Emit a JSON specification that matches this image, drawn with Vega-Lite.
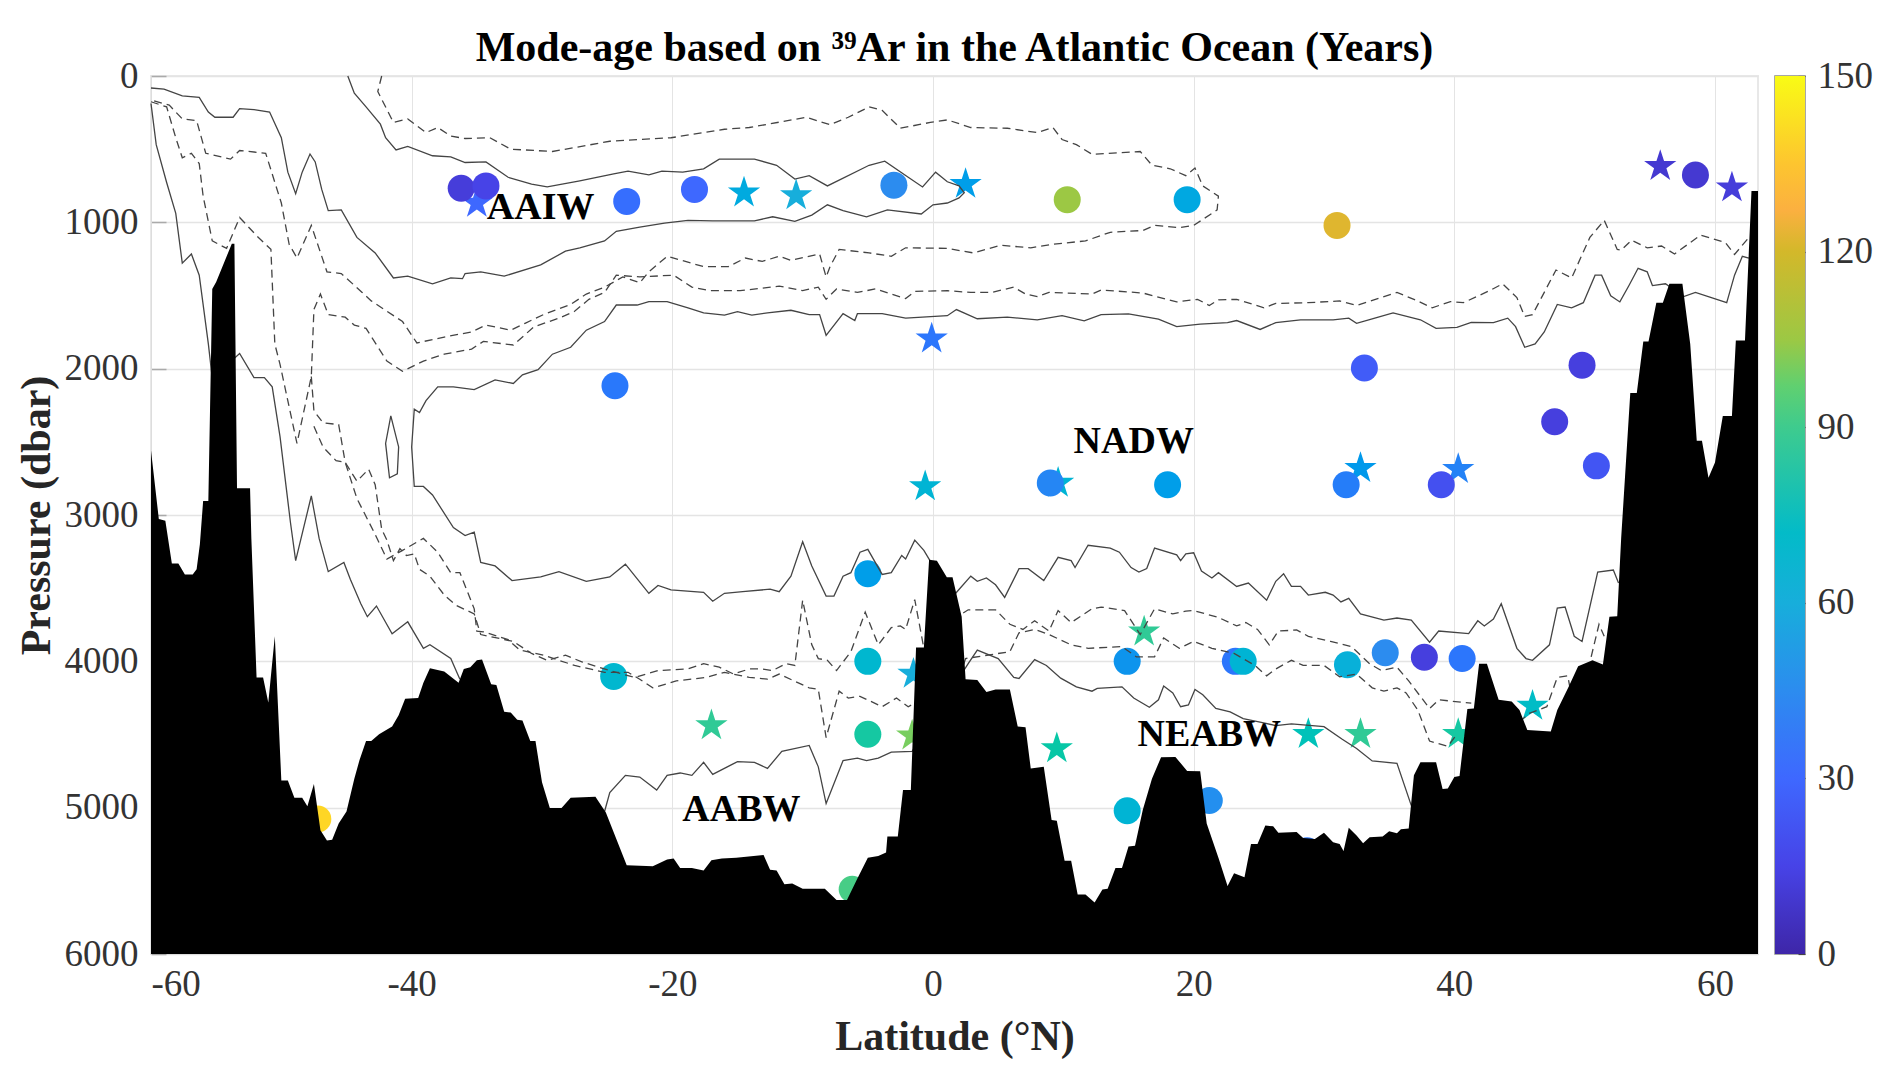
{
"$schema":"https://vega.github.io/schema/vega-lite/v6.json",
"background":"white",
"padding":{"left":14,"top":26,"right":5,"bottom":5},
"spacing":15,
"datasets":{
"bathy":[{"lat":-60,"p":2559},{"lat":-59.4,"p":3028},{"lat":-58.9,"p":3040},{"lat":-58.4,"p":3331},{"lat":-57.9,"p":3331},{"lat":-57.4,"p":3406},{"lat":-56.8,"p":3406},{"lat":-56.5,"p":3370},{"lat":-56.25,"p":3200},{"lat":-56,"p":2904},{"lat":-55.6,"p":2904},{"lat":-55.3,"p":1455},{"lat":-55,"p":1408},{"lat":-53.8,"p":1146},{"lat":-53.6,"p":1146},{"lat":-53.4,"p":2817},{"lat":-52.4,"p":2817},{"lat":-52.3,"p":3160},{"lat":-51.9,"p":4110},{"lat":-51.4,"p":4110},{"lat":-51,"p":4282},{"lat":-50.5,"p":3829},{"lat":-50,"p":4815},{"lat":-49.5,"p":4815},{"lat":-49,"p":4932},{"lat":-48.4,"p":4932},{"lat":-48,"p":4990},{"lat":-47.5,"p":4838},{"lat":-47,"p":5155},{"lat":-46.5,"p":5225},{"lat":-46.1,"p":5220},{"lat":-45.6,"p":5108},{"lat":-45,"p":5026},{"lat":-44.4,"p":4803},{"lat":-44,"p":4674},{"lat":-43.5,"p":4545},{"lat":-43.1,"p":4545},{"lat":-42.5,"p":4498},{"lat":-41.5,"p":4446},{"lat":-41,"p":4369},{"lat":-40.5,"p":4256},{"lat":-39.5,"p":4251},{"lat":-39.1,"p":4146},{"lat":-38.6,"p":4047},{"lat":-37.5,"p":4070},{"lat":-36.4,"p":4146},{"lat":-36,"p":4052},{"lat":-35.5,"p":4040},{"lat":-35,"p":3993},{"lat":-34.6,"p":3988},{"lat":-33.9,"p":4157},{"lat":-33.5,"p":4162},{"lat":-32.9,"p":4345},{"lat":-32.4,"p":4350},{"lat":-31.9,"p":4399},{"lat":-31.5,"p":4404},{"lat":-30.9,"p":4545},{"lat":-30.5,"p":4545},{"lat":-30,"p":4826},{"lat":-29.4,"p":5002},{"lat":-28.5,"p":5002},{"lat":-27.8,"p":4932},{"lat":-25.9,"p":4925},{"lat":-25.1,"p":5033},{"lat":-23.5,"p":5394},{"lat":-21.5,"p":5401},{"lat":-20.4,"p":5354},{"lat":-19.9,"p":5347},{"lat":-19.4,"p":5413},{"lat":-18.5,"p":5413},{"lat":-17.6,"p":5430},{"lat":-17,"p":5359},{"lat":-16.2,"p":5347},{"lat":-15.1,"p":5343},{"lat":-13,"p":5324},{"lat":-12.5,"p":5425},{"lat":-12,"p":5430},{"lat":-11.4,"p":5523},{"lat":-10.8,"p":5519},{"lat":-10,"p":5554},{"lat":-8.3,"p":5554},{"lat":-7.4,"p":5631},{"lat":-6.6,"p":5631},{"lat":-5.8,"p":5484},{"lat":-5,"p":5343},{"lat":-4.2,"p":5331},{"lat":-3.6,"p":5307},{"lat":-3.5,"p":5197},{"lat":-2.7,"p":5197},{"lat":-2.3,"p":4880},{"lat":-1.7,"p":4880},{"lat":-1.3,"p":3906},{"lat":-0.7,"p":3906},{"lat":-0.3,"p":3305},{"lat":0.3,"p":3312},{"lat":1.06,"p":3425},{"lat":1.5,"p":3425},{"lat":2.2,"p":3695},{"lat":2.5,"p":4122},{"lat":3.4,"p":4127},{"lat":4.1,"p":4209},{"lat":4.8,"p":4192},{"lat":5.9,"p":4192},{"lat":6.5,"p":4446},{"lat":7.1,"p":4451},{"lat":7.5,"p":4732},{"lat":8.5,"p":4721},{"lat":9.1,"p":5085},{"lat":9.5,"p":5089},{"lat":10.1,"p":5362},{"lat":10.6,"p":5362},{"lat":11.1,"p":5594},{"lat":11.7,"p":5594},{"lat":12.4,"p":5648},{"lat":13,"p":5559},{"lat":13.4,"p":5554},{"lat":14,"p":5413},{"lat":14.5,"p":5413},{"lat":15,"p":5265},{"lat":15.5,"p":5261},{"lat":16.1,"p":5014},{"lat":16.8,"p":4803},{"lat":17.5,"p":4655},{"lat":18.6,"p":4653},{"lat":19.5,"p":4749},{"lat":20.5,"p":4751},{"lat":21,"p":5108},{"lat":21.9,"p":5343},{"lat":22.6,"p":5535},{"lat":23.1,"p":5448},{"lat":23.9,"p":5476},{"lat":24.4,"p":5249},{"lat":24.9,"p":5249},{"lat":25.5,"p":5122},{"lat":26.1,"p":5127},{"lat":26.5,"p":5171},{"lat":27.9,"p":5167},{"lat":28.4,"p":5207},{"lat":29.3,"p":5214},{"lat":30,"p":5171},{"lat":30.7,"p":5237},{"lat":31.2,"p":5249},{"lat":31.5,"p":5296},{"lat":31.9,"p":5138},{"lat":32.5,"p":5190},{"lat":33,"p":5244},{"lat":33.5,"p":5202},{"lat":34.5,"p":5197},{"lat":35,"p":5162},{"lat":35.6,"p":5174},{"lat":35.9,"p":5148},{"lat":36.5,"p":5143},{"lat":36.9,"p":4779},{"lat":37.4,"p":4690},{"lat":38.6,"p":4690},{"lat":39.1,"p":4873},{"lat":39.5,"p":4869},{"lat":40,"p":4791},{"lat":40.4,"p":4784},{"lat":41,"p":4326},{"lat":41.5,"p":4322},{"lat":41.9,"p":4016},{"lat":42.5,"p":4016},{"lat":43.4,"p":4263},{"lat":44.4,"p":4275},{"lat":45,"p":4333},{"lat":45.6,"p":4469},{"lat":47.4,"p":4479},{"lat":47.9,"p":4333},{"lat":48.8,"p":4169},{"lat":49.5,"p":4033},{"lat":50.6,"p":3993},{"lat":51.4,"p":4021},{"lat":51.9,"p":3695},{"lat":52.5,"p":3692},{"lat":52.8,"p":3160},{"lat":53.5,"p":2167},{"lat":54,"p":2167},{"lat":54.5,"p":1815},{"lat":54.9,"p":1815},{"lat":55.5,"p":1549},{"lat":56,"p":1549},{"lat":56.5,"p":1420},{"lat":57.5,"p":1420},{"lat":58.1,"p":1831},{"lat":58.6,"p":2493},{"lat":59,"p":2493},{"lat":59.5,"p":2746},{"lat":60,"p":2641},{"lat":60.6,"p":2324},{"lat":61.3,"p":2324},{"lat":61.6,"p":1808},{"lat":62.3,"p":1808},{"lat":62.8,"p":786},{"lat":63.3,"p":786}],
"solid":[
{"c":"s1","lat":-60,"p":82},{"c":"s1","lat":-59,"p":89},{"c":"s1","lat":-57.6,"p":136},{"c":"s1","lat":-56.3,"p":146},{"c":"s1","lat":-55.6,"p":246},{"c":"s1","lat":-55.1,"p":282},{"c":"s1","lat":-53.7,"p":282},{"c":"s1","lat":-53.2,"p":223},{"c":"s1","lat":-52.1,"p":230},{"c":"s1","lat":-50.9,"p":246},{"c":"s1","lat":-50,"p":422},{"c":"s1","lat":-49.5,"p":657},{"c":"s1","lat":-48.9,"p":805},{"c":"s1","lat":-48.4,"p":657},{"c":"s1","lat":-47.8,"p":533},{"c":"s1","lat":-47.4,"p":587},{"c":"s1","lat":-46.9,"p":775},{"c":"s1","lat":-46.4,"p":920},{"c":"s1","lat":-45.4,"p":915},{"c":"s1","lat":-44.2,"p":1103},{"c":"s1","lat":-42.8,"p":1209},{"c":"s1","lat":-41.4,"p":1380},{"c":"s1","lat":-40.3,"p":1368},{"c":"s1","lat":-38.4,"p":1420},{"c":"s1","lat":-37,"p":1380},{"c":"s1","lat":-36.1,"p":1385},{"c":"s1","lat":-35.9,"p":1350},{"c":"s1","lat":-34.7,"p":1338},{"c":"s1","lat":-32.9,"p":1368},{"c":"s1","lat":-30.1,"p":1291},{"c":"s1","lat":-28.2,"p":1197},{"c":"s1","lat":-27.1,"p":1174},{"c":"s1","lat":-25.2,"p":1127},{"c":"s1","lat":-24.3,"p":1061},{"c":"s1","lat":-22.5,"p":1033},{"c":"s1","lat":-20.6,"p":1005},{"c":"s1","lat":-18.8,"p":986},{"c":"s1","lat":-16.9,"p":990},{"c":"s1","lat":-13.7,"p":990},{"c":"s1","lat":-12.3,"p":962},{"c":"s1","lat":-10.6,"p":993},{"c":"s1","lat":-9.3,"p":951},{"c":"s1","lat":-8.1,"p":880},{"c":"s1","lat":-6.9,"p":920},{"c":"s1","lat":-5.1,"p":962},{"c":"s1","lat":-3.5,"p":915},{"c":"s1","lat":-0.9,"p":943},{"c":"s1","lat":0,"p":880},{"c":"s1","lat":1.1,"p":868},{"c":"s1","lat":2,"p":833},{"c":"s1","lat":2.4,"p":798},{"c":"s1","lat":2,"p":751},{"c":"s1","lat":1.1,"p":723},{"c":"s1","lat":0.2,"p":657},{"c":"s1","lat":-0.8,"p":758},{"c":"s1","lat":-1.9,"p":692},{"c":"s1","lat":-3.7,"p":582},{"c":"s1","lat":-4.9,"p":610},{"c":"s1","lat":-8.1,"p":751},{"c":"s1","lat":-9.5,"p":681},{"c":"s1","lat":-10.6,"p":704},{"c":"s1","lat":-12,"p":610},{"c":"s1","lat":-13.7,"p":568},{"c":"s1","lat":-16.4,"p":568},{"c":"s1","lat":-17.6,"p":634},{"c":"s1","lat":-19.2,"p":657},{"c":"s1","lat":-20.8,"p":650},{"c":"s1","lat":-21.8,"p":676},{"c":"s1","lat":-23.4,"p":650},{"c":"s1","lat":-24.5,"p":669},{"c":"s1","lat":-27.1,"p":716},{"c":"s1","lat":-29.6,"p":758},{"c":"s1","lat":-30.8,"p":739},{"c":"s1","lat":-32.6,"p":692},{"c":"s1","lat":-34.3,"p":587},{"c":"s1","lat":-35.9,"p":591},{"c":"s1","lat":-37,"p":552},{"c":"s1","lat":-38.4,"p":545},{"c":"s1","lat":-40.3,"p":481},{"c":"s1","lat":-41.2,"p":505},{"c":"s1","lat":-42,"p":422},{"c":"s1","lat":-42.4,"p":329},{"c":"s1","lat":-43.5,"p":211},{"c":"s1","lat":-44.4,"p":117},{"c":"s1","lat":-44.9,"p":0},
{"c":"s2","lat":-60,"p":188},{"c":"s2","lat":-59.6,"p":469},{"c":"s2","lat":-58.8,"p":728},{"c":"s2","lat":-58.1,"p":939},{"c":"s2","lat":-57.6,"p":1279},{"c":"s2","lat":-56.9,"p":1216},{"c":"s2","lat":-56.3,"p":1361},{"c":"s2","lat":-55.6,"p":1831},{"c":"s2","lat":-55.3,"p":2065},{"c":"s2","lat":-53.2,"p":1896},{"c":"s2","lat":-52.1,"p":2061},{"c":"s2","lat":-51.3,"p":2061},{"c":"s2","lat":-50.7,"p":2124},{"c":"s2","lat":-50.1,"p":2464},{"c":"s2","lat":-49.3,"p":3051},{"c":"s2","lat":-48.9,"p":3312},{"c":"s2","lat":-47.7,"p":2870},{"c":"s2","lat":-47.1,"p":3160},{"c":"s2","lat":-46.4,"p":3387},{"c":"s2","lat":-45.2,"p":3324},{"c":"s2","lat":-44.7,"p":3441},{"c":"s2","lat":-43.9,"p":3606},{"c":"s2","lat":-43.4,"p":3695},{"c":"s2","lat":-42.7,"p":3622},{"c":"s2","lat":-41.5,"p":3812},{"c":"s2","lat":-40.3,"p":3730},{"c":"s2","lat":-39.1,"p":3911},{"c":"s2","lat":-38.6,"p":3887},{"c":"s2","lat":-37,"p":3981},{"c":"s2","lat":-36.3,"p":4122},
{"c":"s3","lat":62.6,"p":1244},{"c":"s3","lat":62.1,"p":1232},{"c":"s3","lat":61.5,"p":1361},{"c":"s3","lat":60.9,"p":1549},{"c":"s3","lat":58.5,"p":1479},{"c":"s3","lat":57.6,"p":1507},{"c":"s3","lat":56.2,"p":1420},{"c":"s3","lat":55.2,"p":1432},{"c":"s3","lat":54.8,"p":1338},{"c":"s3","lat":54.1,"p":1314},{"c":"s3","lat":53.4,"p":1432},{"c":"s3","lat":52.7,"p":1544},{"c":"s3","lat":52,"p":1502},{"c":"s3","lat":51.3,"p":1361},{"c":"s3","lat":50.8,"p":1361},{"c":"s3","lat":49.9,"p":1549},{"c":"s3","lat":49,"p":1584},{"c":"s3","lat":47.9,"p":1561},{"c":"s3","lat":46.9,"p":1749},{"c":"s3","lat":46.2,"p":1831},{"c":"s3","lat":45.4,"p":1854},{"c":"s3","lat":44.7,"p":1713},{"c":"s3","lat":44.1,"p":1655},{"c":"s3","lat":43,"p":1685},{"c":"s3","lat":41.3,"p":1683},{"c":"s3","lat":40.2,"p":1718},{"c":"s3","lat":38.6,"p":1725},{"c":"s3","lat":37.4,"p":1666},{"c":"s3","lat":35.3,"p":1619},{"c":"s3","lat":33.9,"p":1655},{"c":"s3","lat":32.5,"p":1690},{"c":"s3","lat":31.9,"p":1655},{"c":"s3","lat":30.7,"p":1666},{"c":"s3","lat":28.2,"p":1666},{"c":"s3","lat":26.3,"p":1685},{"c":"s3","lat":25.1,"p":1732},{"c":"s3","lat":23.3,"p":1671},{"c":"s3","lat":22.6,"p":1685},{"c":"s3","lat":20.5,"p":1695},{"c":"s3","lat":18.7,"p":1713},{"c":"s3","lat":17.3,"p":1662},{"c":"s3","lat":15,"p":1626},{"c":"s3","lat":12.9,"p":1631},{"c":"s3","lat":11.6,"p":1673},{"c":"s3","lat":9.9,"p":1638},{"c":"s3","lat":8,"p":1666},{"c":"s3","lat":5.7,"p":1648},{"c":"s3","lat":3.4,"p":1659},{"c":"s3","lat":1.8,"p":1596},{"c":"s3","lat":1.1,"p":1638},{"c":"s3","lat":-2.1,"p":1655},{"c":"s3","lat":-3.9,"p":1624},{"c":"s3","lat":-5.8,"p":1624},{"c":"s3","lat":-6,"p":1671},{"c":"s3","lat":-6.9,"p":1624},{"c":"s3","lat":-8.2,"p":1772},{"c":"s3","lat":-8.7,"p":1631},{"c":"s3","lat":-9.5,"p":1631},{"c":"s3","lat":-10.9,"p":1601},{"c":"s3","lat":-12.7,"p":1619},{"c":"s3","lat":-13.9,"p":1634},{"c":"s3","lat":-15,"p":1610},{"c":"s3","lat":-16,"p":1634},{"c":"s3","lat":-17.6,"p":1619},{"c":"s3","lat":-18.8,"p":1584},{"c":"s3","lat":-20.4,"p":1542},{"c":"s3","lat":-21.8,"p":1542},{"c":"s3","lat":-22.7,"p":1565},{"c":"s3","lat":-24.3,"p":1565},{"c":"s3","lat":-25.2,"p":1678},{"c":"s3","lat":-26.6,"p":1737},{"c":"s3","lat":-27.8,"p":1854},{"c":"s3","lat":-29.2,"p":1901},{"c":"s3","lat":-30.3,"p":2007},{"c":"s3","lat":-31.5,"p":2042},{"c":"s3","lat":-32.2,"p":2101},{"c":"s3","lat":-33.6,"p":2077},{"c":"s3","lat":-35.2,"p":2143},{"c":"s3","lat":-36.8,"p":2124},{"c":"s3","lat":-38,"p":2124},{"c":"s3","lat":-38.9,"p":2218},{"c":"s3","lat":-39.4,"p":2300},{"c":"s3","lat":-39.8,"p":2277},{"c":"s3","lat":-40,"p":2535},{"c":"s3","lat":-39.8,"p":2805},{"c":"s3","lat":-39.1,"p":2805},{"c":"s3","lat":-38.4,"p":2863},{"c":"s3","lat":-36.8,"p":3086},{"c":"s3","lat":-35.9,"p":3140},{"c":"s3","lat":-35.2,"p":3117},{"c":"s3","lat":-34.7,"p":3324},{"c":"s3","lat":-33.6,"p":3348},{"c":"s3","lat":-32.3,"p":3448},{"c":"s3","lat":-30.1,"p":3423},{"c":"s3","lat":-28.7,"p":3387},{"c":"s3","lat":-26.6,"p":3453},{"c":"s3","lat":-24.8,"p":3423},{"c":"s3","lat":-23.6,"p":3336},{"c":"s3","lat":-21.8,"p":3535},{"c":"s3","lat":-21.1,"p":3481},{"c":"s3","lat":-20.1,"p":3512},{"c":"s3","lat":-17.6,"p":3528},{"c":"s3","lat":-16.9,"p":3589},{"c":"s3","lat":-16,"p":3535},{"c":"s3","lat":-14.6,"p":3524},{"c":"s3","lat":-12.5,"p":3507},{"c":"s3","lat":-11.8,"p":3524},{"c":"s3","lat":-10.9,"p":3418},{"c":"s3","lat":-10,"p":3183},{"c":"s3","lat":-9.3,"p":3348},{"c":"s3","lat":-8.2,"p":3554},{"c":"s3","lat":-7.6,"p":3554},{"c":"s3","lat":-6.9,"p":3418},{"c":"s3","lat":-6.3,"p":3394},{"c":"s3","lat":-5.6,"p":3254},{"c":"s3","lat":-5,"p":3235},{"c":"s3","lat":-3.9,"p":3406},{"c":"s3","lat":-3.2,"p":3394},{"c":"s3","lat":-2.4,"p":3277},{"c":"s3","lat":-2.1,"p":3301},{"c":"s3","lat":-1.4,"p":3172},{"c":"s3","lat":-0.7,"p":3242},{"c":"s3","lat":-0.3,"p":3301},{"c":"s3","lat":1.5,"p":3559},{"c":"s3","lat":2.9,"p":3418},{"c":"s3","lat":3.4,"p":3453},{"c":"s3","lat":4.1,"p":3430},{"c":"s3","lat":4.8,"p":3477},{"c":"s3","lat":5.5,"p":3563},{"c":"s3","lat":6.6,"p":3367},{"c":"s3","lat":7.3,"p":3367},{"c":"s3","lat":8.5,"p":3448},{"c":"s3","lat":9.6,"p":3289},{"c":"s3","lat":10.6,"p":3312},{"c":"s3","lat":10.9,"p":3359},{"c":"s3","lat":11.9,"p":3207},{"c":"s3","lat":13.6,"p":3226},{"c":"s3","lat":14.3,"p":3254},{"c":"s3","lat":15.2,"p":3359},{"c":"s3","lat":15.8,"p":3390},{"c":"s3","lat":16.4,"p":3366},{"c":"s3","lat":17,"p":3226},{"c":"s3","lat":18.7,"p":3272},{"c":"s3","lat":19,"p":3312},{"c":"s3","lat":19.4,"p":3265},{"c":"s3","lat":20,"p":3258},{"c":"s3","lat":20.6,"p":3383},{"c":"s3","lat":21.4,"p":3430},{"c":"s3","lat":21.9,"p":3394},{"c":"s3","lat":23.3,"p":3488},{"c":"s3","lat":24.2,"p":3465},{"c":"s3","lat":25.6,"p":3582},{"c":"s3","lat":26.3,"p":3453},{"c":"s3","lat":26.9,"p":3401},{"c":"s3","lat":27.5,"p":3488},{"c":"s3","lat":28.2,"p":3488},{"c":"s3","lat":28.8,"p":3547},{"c":"s3","lat":30.1,"p":3528},{"c":"s3","lat":30.7,"p":3547},{"c":"s3","lat":31.3,"p":3594},{"c":"s3","lat":31.9,"p":3570},{"c":"s3","lat":32.8,"p":3676},{"c":"s3","lat":34.6,"p":3718},{"c":"s3","lat":35.6,"p":3704},{"c":"s3","lat":36.7,"p":3718},{"c":"s3","lat":38.1,"p":3869},{"c":"s3","lat":38.8,"p":3793},{"c":"s3","lat":41.1,"p":3810},{"c":"s3","lat":41.8,"p":3723},{"c":"s3","lat":42.3,"p":3758},{"c":"s3","lat":43,"p":3711},{"c":"s3","lat":43.6,"p":3606},{"c":"s3","lat":44.8,"p":3911},{"c":"s3","lat":45.5,"p":3981},{"c":"s3","lat":46,"p":3993},{"c":"s3","lat":47.3,"p":3887},{"c":"s3","lat":47.9,"p":3636},{"c":"s3","lat":48.5,"p":3629},{"c":"s3","lat":49.2,"p":3829},{"c":"s3","lat":49.8,"p":3864},{"c":"s3","lat":51,"p":3390},{"c":"s3","lat":52.2,"p":3376},{"c":"s3","lat":52.6,"p":3465},
{"c":"s4","lat":-41.6,"p":2323},{"c":"s4","lat":-42,"p":2511},{"c":"s4","lat":-41.7,"p":2746},{"c":"s4","lat":-41.1,"p":2718},{"c":"s4","lat":-41,"p":2535},{"c":"s4","lat":-41.6,"p":2323},
{"c":"s5","lat":-25.2,"p":5026},{"c":"s5","lat":-24.8,"p":4897},{"c":"s5","lat":-23.6,"p":4779},{"c":"s5","lat":-22.5,"p":4791},{"c":"s5","lat":-21.2,"p":4880},{"c":"s5","lat":-20.4,"p":4779},{"c":"s5","lat":-19.4,"p":4763},{"c":"s5","lat":-18.5,"p":4779},{"c":"s5","lat":-17.6,"p":4690},{"c":"s5","lat":-16.9,"p":4772},{"c":"s5","lat":-15,"p":4685},{"c":"s5","lat":-13.7,"p":4690},{"c":"s5","lat":-12.7,"p":4732},{"c":"s5","lat":-11.6,"p":4615},{"c":"s5","lat":-9.5,"p":4575},{"c":"s5","lat":-8.8,"p":4721},{"c":"s5","lat":-8.2,"p":4972},{"c":"s5","lat":-6.9,"p":4678},{"c":"s5","lat":-5.8,"p":4662},{"c":"s5","lat":-5.1,"p":4678},{"c":"s5","lat":-4.2,"p":4662},{"c":"s5","lat":-3.2,"p":4620},{"c":"s5","lat":-1.6,"p":4615},{"c":"s5","lat":2.7,"p":4016},{"c":"s5","lat":3.4,"p":3923},{"c":"s5","lat":5,"p":3981},{"c":"s5","lat":6.2,"p":4110},{"c":"s5","lat":6.6,"p":4117},{"c":"s5","lat":7.8,"p":3988},{"c":"s5","lat":8.7,"p":4028},{"c":"s5","lat":9.8,"p":4115},{"c":"s5","lat":11,"p":4174},{"c":"s5","lat":12.2,"p":4204},{"c":"s5","lat":12.6,"p":4185},{"c":"s5","lat":14.5,"p":4174},{"c":"s5","lat":15.4,"p":4251},{"c":"s5","lat":16.6,"p":4314},{"c":"s5","lat":17.3,"p":4263},{"c":"s5","lat":17.7,"p":4169},{"c":"s5","lat":18.4,"p":4216},{"c":"s5","lat":19,"p":4310},{"c":"s5","lat":19.6,"p":4298},{"c":"s5","lat":20.1,"p":4192},{"c":"s5","lat":20.7,"p":4228},{"c":"s5","lat":21.7,"p":4322},{"c":"s5","lat":22.8,"p":4345},{"c":"s5","lat":23.8,"p":4392},{"c":"s5","lat":25.1,"p":4415},{"c":"s5","lat":26.3,"p":4439},{"c":"s5","lat":27.5,"p":4427},{"c":"s5","lat":30,"p":4446},{"c":"s5","lat":31.4,"p":4533},{"c":"s5","lat":32.5,"p":4596},{"c":"s5","lat":33.7,"p":4681},{"c":"s5","lat":35.6,"p":4697},{"c":"s5","lat":36.7,"p":4986}
],
"dashed":[
{"c":"d1","lat":-42.3,"p":0},{"c":"d1","lat":-42.6,"p":106},{"c":"d1","lat":-41.4,"p":317},{"c":"d1","lat":-40.3,"p":293},{"c":"d1","lat":-38.9,"p":387},{"c":"d1","lat":-38,"p":352},{"c":"d1","lat":-37,"p":411},{"c":"d1","lat":-35.9,"p":427},{"c":"d1","lat":-34,"p":422},{"c":"d1","lat":-32.4,"p":500},{"c":"d1","lat":-29.2,"p":516},{"c":"d1","lat":-24.8,"p":446},{"c":"d1","lat":-20.1,"p":422},{"c":"d1","lat":-16,"p":364},{"c":"d1","lat":-14.1,"p":352},{"c":"d1","lat":-9.7,"p":282},{"c":"d1","lat":-7.9,"p":333},{"c":"d1","lat":-6.5,"p":282},{"c":"d1","lat":-4.9,"p":211},{"c":"d1","lat":-3.9,"p":235},{"c":"d1","lat":-2.5,"p":357},{"c":"d1","lat":-0.2,"p":317},{"c":"d1","lat":1.1,"p":300},{"c":"d1","lat":2.9,"p":352},{"c":"d1","lat":5.7,"p":357},{"c":"d1","lat":8,"p":387},{"c":"d1","lat":9.2,"p":352},{"c":"d1","lat":9.9,"p":434},{"c":"d1","lat":11,"p":469},{"c":"d1","lat":12.2,"p":535},{"c":"d1","lat":15.9,"p":516},{"c":"d1","lat":16.8,"p":610},{"c":"d1","lat":18.2,"p":634},{"c":"d1","lat":19.4,"p":681},{"c":"d1","lat":20.1,"p":629},{"c":"d1","lat":20.7,"p":751},{"c":"d1","lat":21.9,"p":821},{"c":"d1","lat":21.8,"p":915},{"c":"d1","lat":20,"p":1021},{"c":"d1","lat":18.9,"p":1037},{"c":"d1","lat":17,"p":1021},{"c":"d1","lat":16.1,"p":1056},{"c":"d1","lat":13.6,"p":1068},{"c":"d1","lat":11.7,"p":1127},{"c":"d1","lat":9.2,"p":1150},{"c":"d1","lat":7.5,"p":1174},{"c":"d1","lat":5.2,"p":1157},{"c":"d1","lat":3.1,"p":1209},{"c":"d1","lat":1.1,"p":1178},{"c":"d1","lat":-2.1,"p":1174},{"c":"d1","lat":-3.2,"p":1232},{"c":"d1","lat":-4.9,"p":1209},{"c":"d1","lat":-7.2,"p":1185},{"c":"d1","lat":-7.9,"p":1303},{"c":"d1","lat":-8.2,"p":1373},{"c":"d1","lat":-8.7,"p":1216},{"c":"d1","lat":-10.9,"p":1260},{"c":"d1","lat":-11.8,"p":1232},{"c":"d1","lat":-13.1,"p":1267},{"c":"d1","lat":-14.4,"p":1244},{"c":"d1","lat":-15.7,"p":1303},{"c":"d1","lat":-17.6,"p":1303},{"c":"d1","lat":-20.4,"p":1232},{"c":"d1","lat":-21.8,"p":1338},{"c":"d1","lat":-22.5,"p":1413},{"c":"d1","lat":-23.8,"p":1373},{"c":"d1","lat":-25.2,"p":1443},{"c":"d1","lat":-26.6,"p":1490},{"c":"d1","lat":-27.8,"p":1561},{"c":"d1","lat":-29.9,"p":1631},{"c":"d1","lat":-31.3,"p":1690},{"c":"d1","lat":-32.4,"p":1737},{"c":"d1","lat":-34.3,"p":1702},{"c":"d1","lat":-35.4,"p":1749},{"c":"d1","lat":-37.5,"p":1784},{"c":"d1","lat":-39.6,"p":1824},{"c":"d1","lat":-40.7,"p":1678},{"c":"d1","lat":-43.1,"p":1537},{"c":"d1","lat":-43.8,"p":1479},{"c":"d1","lat":-45.4,"p":1350},{"c":"d1","lat":-46.5,"p":1338},{"c":"d1","lat":-47.7,"p":1021},{"c":"d1","lat":-48.8,"p":1244},{"c":"d1","lat":-49.4,"p":1150},{"c":"d1","lat":-50,"p":868},{"c":"d1","lat":-51.2,"p":528},{"c":"d1","lat":-53.2,"p":509},{"c":"d1","lat":-53.9,"p":568},{"c":"d1","lat":-55.8,"p":528},{"c":"d1","lat":-56.5,"p":305},{"c":"d1","lat":-57.6,"p":293},{"c":"d1","lat":-58.6,"p":199},{"c":"d1","lat":-60,"p":164},
{"c":"d2","lat":-60,"p":176},{"c":"d2","lat":-58.8,"p":211},{"c":"d2","lat":-58.1,"p":422},{"c":"d2","lat":-57.6,"p":559},{"c":"d2","lat":-56.9,"p":528},{"c":"d2","lat":-56.3,"p":598},{"c":"d2","lat":-56,"p":821},{"c":"d2","lat":-55.3,"p":1127},{"c":"d2","lat":-54.2,"p":1178},{"c":"d2","lat":-53.2,"p":967},{"c":"d2","lat":-51.9,"p":1091},{"c":"d2","lat":-50.8,"p":1185},{"c":"d2","lat":-50.5,"p":1831},{"c":"d2","lat":-50.1,"p":1971},{"c":"d2","lat":-48.8,"p":2511},{"c":"d2","lat":-47.7,"p":2054},{"c":"d2","lat":-47.5,"p":1596},{"c":"d2","lat":-47,"p":1490},{"c":"d2","lat":-46.4,"p":1631},{"c":"d2","lat":-45.1,"p":1648},{"c":"d2","lat":-44.4,"p":1702},{"c":"d2","lat":-43.5,"p":1725},{"c":"d2","lat":-41.9,"p":1948},{"c":"d2","lat":-40.7,"p":2018},{"c":"d2","lat":-39.1,"p":1948},{"c":"d2","lat":-37.5,"p":1901},{"c":"d2","lat":-35.4,"p":1866},{"c":"d2","lat":-34.5,"p":1814},{"c":"d2","lat":-32.2,"p":1838},{"c":"d2","lat":-30.6,"p":1713},{"c":"d2","lat":-28.7,"p":1655},{"c":"d2","lat":-27.5,"p":1608},{"c":"d2","lat":-26.4,"p":1526},{"c":"d2","lat":-25.2,"p":1479},{"c":"d2","lat":-24.3,"p":1361},{"c":"d2","lat":-22.5,"p":1373},{"c":"d2","lat":-19.9,"p":1361},{"c":"d2","lat":-18.5,"p":1443},{"c":"d2","lat":-17.1,"p":1467},{"c":"d2","lat":-14.8,"p":1467},{"c":"d2","lat":-11.8,"p":1436},{"c":"d2","lat":-10,"p":1467},{"c":"d2","lat":-8.8,"p":1443},{"c":"d2","lat":-8.2,"p":1526},{"c":"d2","lat":-7.4,"p":1455},{"c":"d2","lat":-5.8,"p":1479},{"c":"d2","lat":-4.4,"p":1455},{"c":"d2","lat":-2.1,"p":1521},{"c":"d2","lat":-1.4,"p":1472},{"c":"d2","lat":1.1,"p":1467},{"c":"d2","lat":2.9,"p":1479},{"c":"d2","lat":4.5,"p":1479},{"c":"d2","lat":6.2,"p":1443},{"c":"d2","lat":7.1,"p":1490},{"c":"d2","lat":8,"p":1507},{"c":"d2","lat":8.9,"p":1479},{"c":"d2","lat":12.2,"p":1490},{"c":"d2","lat":12.9,"p":1462},{"c":"d2","lat":16.1,"p":1483},{"c":"d2","lat":18.7,"p":1544},{"c":"d2","lat":20.3,"p":1526},{"c":"d2","lat":21.2,"p":1568},{"c":"d2","lat":21.9,"p":1530},{"c":"d2","lat":23.3,"p":1526},{"c":"d2","lat":25.4,"p":1584},{"c":"d2","lat":26.3,"p":1554},{"c":"d2","lat":28.8,"p":1549},{"c":"d2","lat":31.2,"p":1537},{"c":"d2","lat":32.5,"p":1568},{"c":"d2","lat":35.6,"p":1479},{"c":"d2","lat":36.9,"p":1526},{"c":"d2","lat":38.3,"p":1584},{"c":"d2","lat":39.7,"p":1542},{"c":"d2","lat":40.7,"p":1549},{"c":"d2","lat":42.7,"p":1467},{"c":"d2","lat":43.7,"p":1420},{"c":"d2","lat":44.8,"p":1514},{"c":"d2","lat":45.4,"p":1643},{"c":"d2","lat":46,"p":1631},{"c":"d2","lat":47.8,"p":1326},{"c":"d2","lat":49,"p":1380},{"c":"d2","lat":50.4,"p":1103},{"c":"d2","lat":51.5,"p":986},{"c":"d2","lat":52.5,"p":1185},{"c":"d2","lat":52.8,"p":1190},{"c":"d2","lat":53.6,"p":1122},{"c":"d2","lat":54.8,"p":1174},{"c":"d2","lat":55.9,"p":1162},{"c":"d2","lat":56.9,"p":1216},{"c":"d2","lat":58.9,"p":1087},{"c":"d2","lat":60.8,"p":1138},{"c":"d2","lat":61.5,"p":1220},{"c":"d2","lat":62.6,"p":1103},
{"c":"d3","lat":-47.7,"p":2054},{"c":"d3","lat":-47.5,"p":2288},{"c":"d3","lat":-46.8,"p":2370},{"c":"d3","lat":-45.6,"p":2382},{"c":"d3","lat":-45.1,"p":2640},{"c":"d3","lat":-44.2,"p":2769},{"c":"d3","lat":-43.3,"p":2687},{"c":"d3","lat":-42.8,"p":2793},{"c":"d3","lat":-42.3,"p":3098},{"c":"d3","lat":-41.9,"p":3172},{"c":"d3","lat":-41.4,"p":3312},{"c":"d3","lat":-40.9,"p":3230},{"c":"d3","lat":-40.4,"p":3277},{"c":"d3","lat":-39.8,"p":3265},{"c":"d3","lat":-39.4,"p":3371},{"c":"d3","lat":-38.6,"p":3418},{"c":"d3","lat":-37.5,"p":3547},{"c":"d3","lat":-36.6,"p":3617},{"c":"d3","lat":-35.2,"p":3676},{"c":"d3","lat":-34.7,"p":3817},{"c":"d3","lat":-32.2,"p":3864},{"c":"d3","lat":-30.8,"p":3946},{"c":"d3","lat":-29.6,"p":3993},{"c":"d3","lat":-28.2,"p":3958},{"c":"d3","lat":-26.9,"p":4005},{"c":"d3","lat":-24.8,"p":4063},{"c":"d3","lat":-22.9,"p":4110},{"c":"d3","lat":-21.1,"p":4063},{"c":"d3","lat":-18.8,"p":4052},{"c":"d3","lat":-17.6,"p":4016},{"c":"d3","lat":-16.4,"p":4040},{"c":"d3","lat":-15.3,"p":4087},{"c":"d3","lat":-14.1,"p":4052},{"c":"d3","lat":-13.2,"p":4052},{"c":"d3","lat":-12.3,"p":4063},{"c":"d3","lat":-11.3,"p":4016},{"c":"d3","lat":-10.6,"p":4028},{"c":"d3","lat":-10,"p":3582},{"c":"d3","lat":-9.3,"p":3887},{"c":"d3","lat":-8.8,"p":3981},{"c":"d3","lat":-8.1,"p":3993},{"c":"d3","lat":-7.4,"p":4063},{"c":"d3","lat":-6.3,"p":3934},{"c":"d3","lat":-5.2,"p":3664},{"c":"d3","lat":-4.2,"p":3887},{"c":"d3","lat":-3.2,"p":3770},{"c":"d3","lat":-2.5,"p":3758},{"c":"d3","lat":-2.1,"p":3782},{"c":"d3","lat":-1.4,"p":3578},{"c":"d3","lat":-0.7,"p":3911},{"c":"d3","lat":2,"p":3688},{"c":"d3","lat":2.7,"p":3648},{"c":"d3","lat":4.8,"p":3648},{"c":"d3","lat":5.9,"p":3747},{"c":"d3","lat":6.9,"p":3782},{"c":"d3","lat":7.8,"p":3723},{"c":"d3","lat":8.9,"p":3793},{"c":"d3","lat":9.6,"p":3653},{"c":"d3","lat":10.6,"p":3735},{"c":"d3","lat":12.2,"p":3641},{"c":"d3","lat":12.9,"p":3629},{"c":"d3","lat":14.7,"p":3653},{"c":"d3","lat":15.9,"p":3817},{"c":"d3","lat":17,"p":3641},{"c":"d3","lat":18.4,"p":3676},{"c":"d3","lat":19.4,"p":3657},{"c":"d3","lat":20,"p":3653},{"c":"d3","lat":21.9,"p":3700},{"c":"d3","lat":23.3,"p":3758},{"c":"d3","lat":24,"p":3735},{"c":"d3","lat":24.9,"p":3782},{"c":"d3","lat":25.8,"p":3887},{"c":"d3","lat":26.5,"p":3793},{"c":"d3","lat":27.9,"p":3786},{"c":"d3","lat":28.8,"p":3829},{"c":"d3","lat":30.5,"p":3864},{"c":"d3","lat":32.1,"p":3899},{"c":"d3","lat":33.5,"p":4016},{"c":"d3","lat":34.4,"p":4063},{"c":"d3","lat":35.6,"p":4040},{"c":"d3","lat":36.5,"p":4134},{"c":"d3","lat":38.1,"p":4322},{"c":"d3","lat":38.8,"p":4263},{"c":"d3","lat":41.3,"p":4286},
{"c":"d4","lat":-47.5,"p":2394},{"c":"d4","lat":-46.8,"p":2535},{"c":"d4","lat":-45.8,"p":2629},{"c":"d4","lat":-45.1,"p":2640},{"c":"d4","lat":-44.2,"p":2887},{"c":"d4","lat":-42.8,"p":3133},{"c":"d4","lat":-41.9,"p":3301},{"c":"d4","lat":-40.7,"p":3242},{"c":"d4","lat":-39.1,"p":3160},{"c":"d4","lat":-38,"p":3254},{"c":"d4","lat":-37,"p":3394},{"c":"d4","lat":-36.3,"p":3394},{"c":"d4","lat":-35.2,"p":3641},{"c":"d4","lat":-35,"p":3793},{"c":"d4","lat":-34.5,"p":3798},{"c":"d4","lat":-32.6,"p":3852},{"c":"d4","lat":-31.7,"p":3923},{"c":"d4","lat":-29.9,"p":3958},{"c":"d4","lat":-27.5,"p":4028},{"c":"d4","lat":-25.2,"p":4075},{"c":"d4","lat":-23.4,"p":4075},{"c":"d4","lat":-22.5,"p":4122},{"c":"d4","lat":-21.5,"p":4181},{"c":"d4","lat":-19.7,"p":4134},{"c":"d4","lat":-17.4,"p":4110},{"c":"d4","lat":-16,"p":4075},{"c":"d4","lat":-14.1,"p":4110},{"c":"d4","lat":-12.7,"p":4122},{"c":"d4","lat":-11.8,"p":4087},{"c":"d4","lat":-9.5,"p":4181},{"c":"d4","lat":-8.8,"p":4192},{"c":"d4","lat":-8.2,"p":4521},{"c":"d4","lat":-7.2,"p":4204},{"c":"d4","lat":-6.5,"p":4251},{"c":"d4","lat":-5.6,"p":4239},{"c":"d4","lat":-3.9,"p":4310},{"c":"d4","lat":-2.8,"p":4251},{"c":"d4","lat":-1.9,"p":4310},{"c":"d4","lat":2,"p":4122},{"c":"d4","lat":2.5,"p":3981},{"c":"d4","lat":5.9,"p":3934},{"c":"d4","lat":6.6,"p":3805},{"c":"d4","lat":7.8,"p":3782},{"c":"d4","lat":8.9,"p":3817},{"c":"d4","lat":10.6,"p":3887},{"c":"d4","lat":11.9,"p":3911},{"c":"d4","lat":14.5,"p":3899},{"c":"d4","lat":15.6,"p":3969},{"c":"d4","lat":17,"p":3969},{"c":"d4","lat":17.7,"p":3840},{"c":"d4","lat":18.9,"p":3911},{"c":"d4","lat":20,"p":3864},{"c":"d4","lat":21.4,"p":3911},{"c":"d4","lat":23.1,"p":3946},{"c":"d4","lat":24.7,"p":4028},{"c":"d4","lat":25.6,"p":4099},{"c":"d4","lat":26.3,"p":4052},{"c":"d4","lat":27.5,"p":3993},{"c":"d4","lat":28.4,"p":4028},{"c":"d4","lat":30,"p":4028},{"c":"d4","lat":31.2,"p":4106},{"c":"d4","lat":32.5,"p":4087},{"c":"d4","lat":33.7,"p":4181},{"c":"d4","lat":34.6,"p":4204},{"c":"d4","lat":35.6,"p":4181},{"c":"d4","lat":36.3,"p":4216},{"c":"d4","lat":37.2,"p":4333},{"c":"d4","lat":38.1,"p":4545},{"c":"d4","lat":39.5,"p":4580},{"c":"d4","lat":40.2,"p":4498},
{"c":"d5","lat":45,"p":4415},{"c":"d5","lat":45.7,"p":4357},{"c":"d5","lat":47.1,"p":4310},{"c":"d5","lat":47.9,"p":4110},{"c":"d5","lat":48.7,"p":4099},{"c":"d5","lat":48.9,"p":4192},
{"c":"d6","lat":50.5,"p":3969},{"c":"d6","lat":51.1,"p":3747},{"c":"d6","lat":51.5,"p":3829}
],
"stations":[
{"m":"star","lat":-35,"p":868,"age":30},{"m":"star","lat":-14.5,"p":798,"age":58},{"m":"star","lat":-10.5,"p":817,"age":60},{"m":"star","lat":-0.1,"p":1795,"age":35},{"m":"star","lat":-0.6,"p":2805,"age":65},{"m":"star","lat":2.5,"p":739,"age":52},{"m":"star","lat":55.8,"p":617,"age":10},{"m":"star","lat":61.3,"p":763,"age":12},{"m":"star","lat":32.8,"p":2680,"age":50},{"m":"star","lat":40.3,"p":2687,"age":40},{"m":"star","lat":9.6,"p":2781,"age":65},{"m":"star","lat":-1.5,"p":4087,"age":60},{"m":"star","lat":-17,"p":4439,"age":88},{"m":"star","lat":-1.6,"p":4509,"age":100},{"m":"star","lat":16.2,"p":3798,"age":88},{"m":"star","lat":46,"p":4305,"age":73},{"m":"star","lat":28.8,"p":4498,"age":78},{"m":"star","lat":32.8,"p":4498,"age":88},{"m":"star","lat":40.3,"p":4498,"age":85},{"m":"star","lat":9.5,"p":4596,"age":84},
{"m":"circle","lat":-36.2,"p":767,"age":12},{"m":"circle","lat":-34.3,"p":751,"age":15},{"m":"circle","lat":-23.5,"p":857,"age":32},{"m":"circle","lat":-18.3,"p":775,"age":30},{"m":"circle","lat":-3,"p":746,"age":45},{"m":"circle","lat":-24.4,"p":2117,"age":36},{"m":"circle","lat":10.3,"p":845,"age":105},{"m":"circle","lat":19.5,"p":845,"age":57},{"m":"circle","lat":31,"p":1021,"age":122},{"m":"circle","lat":33.1,"p":1995,"age":25},{"m":"circle","lat":49.8,"p":1976,"age":13},{"m":"circle","lat":47.7,"p":2363,"age":13},{"m":"circle","lat":50.9,"p":2664,"age":22},{"m":"circle","lat":58.5,"p":676,"age":10},{"m":"circle","lat":31.7,"p":2793,"age":38},{"m":"circle","lat":39,"p":2793,"age":20},{"m":"circle","lat":9,"p":2781,"age":42},{"m":"circle","lat":18,"p":2793,"age":52},{"m":"circle","lat":-5,"p":3401,"age":52},{"m":"circle","lat":-24.5,"p":4103,"age":68},{"m":"circle","lat":-5,"p":4000,"age":68},{"m":"circle","lat":-5,"p":4498,"age":85},{"m":"circle","lat":-47.2,"p":5077,"age":140},{"m":"circle","lat":-6.2,"p":5558,"age":92},{"m":"circle","lat":14.9,"p":4000,"age":48},{"m":"circle","lat":23.2,"p":4000,"age":35},{"m":"circle","lat":23.8,"p":4000,"age":65},{"m":"circle","lat":31.8,"p":4023,"age":62},{"m":"circle","lat":34.7,"p":3941,"age":45},{"m":"circle","lat":37.7,"p":3972,"age":13},{"m":"circle","lat":40.6,"p":3981,"age":35},{"m":"circle","lat":14.9,"p":5021,"age":65},{"m":"circle","lat":21.2,"p":4951,"age":46},{"m":"circle","lat":28.7,"p":5295,"age":35}
],
"masses":[{"name":"AAIW","lat":-30.1,"p":904},{"name":"NADW","lat":15.4,"p":2504},{"name":"AABW","lat":-14.7,"p":5014},{"name":"NEABW","lat":21.2,"p":4505}]
},
"hconcat":[
{
"title":{"text":"Mode-age based on ³⁹Ar in the Atlantic Ocean (Years)","font":"Liberation Serif","fontSize":42,"fontWeight":"bold","color":"black","anchor":"middle","offset":-13},
"width":1607,
"height":878,
"view":{"stroke":"#e8e8e8","strokeWidth":2},
"encoding":{
"x":{"field":"lat","type":"quantitative","scale":{"domain":[-60,63.3],"nice":false,"zero":false},
"axis":{"title":"Latitude (°N)","titleFont":"Liberation Serif","titleFontSize":42,"titleFontWeight":"bold","titleColor":"#262626","titlePadding":14,"values":[-60,-40,-20,0,20,40,60],"labelExpr":"datum.value + ''","labelFont":"Liberation Serif","labelFontSize":37,"labelColor":"#333333","labelPadding":12,"ticks":false,"domainColor":"#dddddd","gridColor":"#e4e4e4","gridWidth":1}},
"y":{"field":"p","type":"quantitative","scale":{"domain":[0,6000],"reverse":true,"nice":false},
"axis":{"title":"Pressure (dbar)","titleFont":"Liberation Serif","titleFontSize":42,"titleFontWeight":"bold","titleColor":"#262626","titlePadding":6,"values":[0,1000,2000,3000,4000,5000,6000],"format":"d","labelFont":"Liberation Serif","labelFontSize":37,"labelColor":"#333333","labelPadding":28,"tickSize":-15,"tickColor":"#aaaaaa","tickWidth":1.5,"domainColor":"#dddddd","gridColor":"#e4e4e4","gridWidth":1.5}}
},
"layer":[
{"data":{"name":"stations"},"transform":[{"filter":"datum.m === 'star'"}],"mark":{"type":"point","shape":"M0,-1L0.2245,-0.309L0.951,-0.309L0.363,0.118L0.588,0.809L0,0.382L-0.588,0.809L-0.363,0.118L-0.951,-0.309L-0.2245,-0.309Z","filled":true,"opacity":1,"size":1150},
"encoding":{"color":{"field":"age","type":"quantitative","legend":null,"scale":{"domain":[0,15,30,45,60,72,90,97,105,120,127,135,150],"range":["#3e26a8","#4743e7","#3e68ff","#2c8cef","#17aedb","#03bbc8","#3ecb8e","#60d070","#9cc844","#d3b82a","#fbb040","#fdc52f","#f9fb15"]}}}},
{"data":{"name":"stations"},"transform":[{"filter":"datum.m === 'circle'"}],"mark":{"type":"point","shape":"circle","filled":true,"opacity":1,"size":729},
"encoding":{"color":{"field":"age","type":"quantitative","legend":null,"scale":{"domain":[0,15,30,45,60,72,90,97,105,120,127,135,150],"range":["#3e26a8","#4743e7","#3e68ff","#2c8cef","#17aedb","#03bbc8","#3ecb8e","#60d070","#9cc844","#d3b82a","#fbb040","#fdc52f","#f9fb15"]}}}},
{"data":{"name":"solid"},"mark":{"type":"line","color":"#444444","strokeWidth":1.3},
"encoding":{"detail":{"field":"c"},"order":{"value":null}}},
{"data":{"name":"dashed"},"mark":{"type":"line","color":"#444444","strokeWidth":1.3,"strokeDash":[8,5]},
"encoding":{"detail":{"field":"c"},"order":{"value":null}}},
{"data":{"name":"bathy"},"mark":{"type":"area","color":"black","opacity":1},
"encoding":{"y2":{"datum":6000}}},
{"data":{"name":"masses"},"mark":{"type":"text","font":"Liberation Serif","fontSize":38,"fontWeight":"bold","color":"black","baseline":"middle"},
"encoding":{"text":{"field":"name"}}}
]
},
{
"width":30,
"height":878,
"view":{"stroke":"#8a8a8a","strokeWidth":1.5},
"data":{"values":[{"lo":0,"hi":150}]},
"mark":{"type":"rect","color":{"gradient":"linear","x1":0,"y1":1,"x2":0,"y2":0,"stops":[{"offset":0,"color":"#3e26a8"},{"offset":0.1,"color":"#4743e7"},{"offset":0.2,"color":"#3e68ff"},{"offset":0.3,"color":"#2c8cef"},{"offset":0.4,"color":"#17aedb"},{"offset":0.48,"color":"#03bbc8"},{"offset":0.6,"color":"#3ecb8e"},{"offset":0.647,"color":"#60d070"},{"offset":0.7,"color":"#9cc844"},{"offset":0.8,"color":"#d3b82a"},{"offset":0.847,"color":"#fbb040"},{"offset":0.9,"color":"#fdc52f"},{"offset":1,"color":"#f9fb15"}]}},
"encoding":{
"y":{"field":"lo","type":"quantitative","scale":{"domain":[0,150],"nice":false},
"axis":{"orient":"right","title":null,"values":[0,30,60,90,120,150],"grid":false,"domain":false,"labelFont":"Liberation Serif","labelFontSize":37,"labelColor":"#333333","labelPadding":19,"tickSize":-7,"tickColor":"#444444","tickWidth":1.2}},
"y2":{"field":"hi"}
}
}
]
}
